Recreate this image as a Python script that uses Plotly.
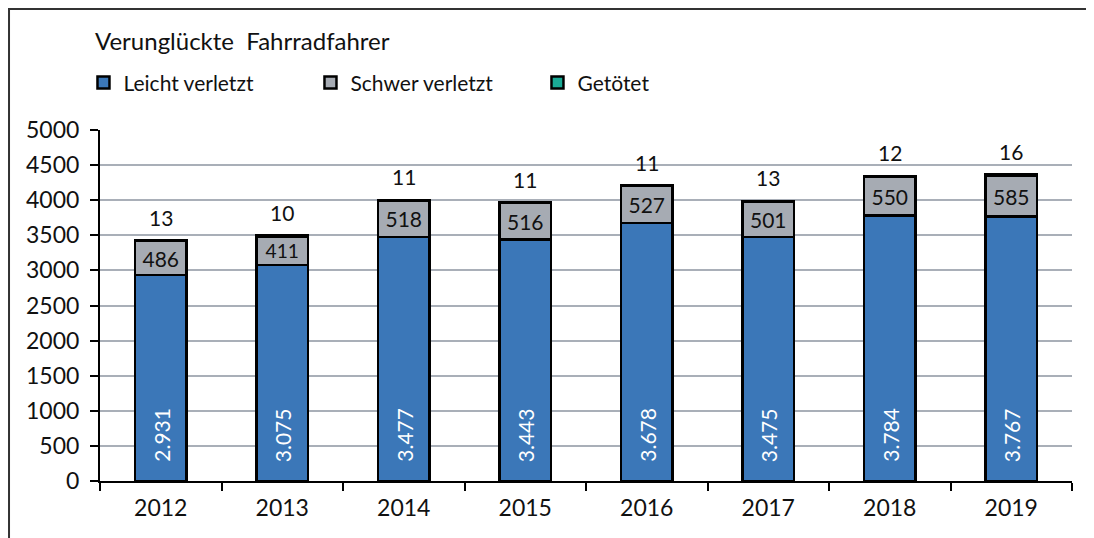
import plotly.graph_objects as go

# Daten: Verunglückte Fahrradfahrer 2012-2019
jahre = ['2012', '2013', '2014', '2015', '2016', '2017', '2018', '2019']
leicht = [2931, 3075, 3477, 3443, 3678, 3475, 3784, 3767]
schwer = [486, 411, 518, 516, 527, 501, 550, 585]
getoetet = [13, 10, 11, 11, 11, 13, 12, 16]

FONT = 'Lato, Noto Sans, sans-serif'
blau = '#3B77B8'
grau = '#A6ABB3'
gruen = '#1AAA96'

fig = go.Figure()
fig.add_trace(go.Bar(x=jahre, y=leicht, name='Leicht verletzt',
                     marker=dict(color=blau, line=dict(color='black', width=2.5))))
fig.add_trace(go.Bar(x=jahre, y=schwer, name='Schwer verletzt',
                     marker=dict(color=grau, line=dict(color='black', width=2.5)),
                     text=[str(v) for v in schwer], textposition='inside',
                     insidetextanchor='middle', textangle=0,
                     textfont=dict(size=21, color='#111111', family=FONT)))
fig.add_trace(go.Bar(x=jahre, y=getoetet, name='Getötet',
                     marker=dict(color=gruen, line=dict(color='black', width=2.5))))

# Beschriftungen: leicht verletzt (gedreht, unten im Balken), getötet (über dem Balken)
# x als Kategorie-Index, da numerische Strings sonst als Index gelesen werden
for i, j in enumerate(jahre):
    fig.add_annotation(x=i, y=0, text=f"{leicht[i]:,}".replace(',', '.'),
                       textangle=-90, showarrow=False, yanchor='bottom', yshift=17,
                       font=dict(size=21, color='white', family=FONT))
    gesamt = leicht[i] + schwer[i] + getoetet[i]
    fig.add_annotation(x=i, y=gesamt, text=str(getoetet[i]), showarrow=False,
                       yanchor='middle', yshift=23,
                       font=dict(size=21, color='#111111', family=FONT))

# Rahmen (links und oben sichtbar)
fig.add_shape(type='rect', xref='paper', yref='paper', x0=-0.0936, x1=1.05, y0=-0.3, y1=1.3447,
              line=dict(color='#333333', width=2))

fig.update_layout(
    barmode='stack',
    bargap=0.58,
    width=1086, height=530,
    margin=dict(l=92, r=22, t=122, b=57),
    paper_bgcolor='white', plot_bgcolor='white',
    font=dict(family=FONT, size=21, color='#111111'),
    title=dict(text='Verunglückte  Fahrradfahrer', x=87 / 1086, xanchor='left',
               y=1 - 34 / 530, yanchor='middle', font=dict(size=24, color='#111111', family=FONT)),
    legend=dict(orientation='h', x=-0.017, xanchor='left', y=1.134, yanchor='middle',
                entrywidth=182, entrywidthmode='pixels', traceorder='normal',
                font=dict(size=21, color='#111111', family=FONT), itemclick=False),
    showlegend=True,
)
fig.update_yaxes(range=[0, 5000], dtick=500, showgrid=True, gridcolor='#A9AFB8', gridwidth=2,
                 showline=True, linecolor='black', linewidth=2, ticks='outside', ticklen=8,
                 tickwidth=2, tickcolor='black', zeroline=False, automargin=False,
                 ticklabelstandoff=6,
                 tickfont=dict(size=23, color='#111111'))
fig.update_xaxes(type='category', range=[-0.5, 7.5], showline=True, linecolor='black',
                 linewidth=2, ticks='outside', ticklen=8, automargin=False,
                 tickwidth=2, tickcolor='black', tickson='boundaries',
                 ticklabelstandoff=5,
                 tickfont=dict(size=23, color='#111111'))

fig.write_html("out.html")
